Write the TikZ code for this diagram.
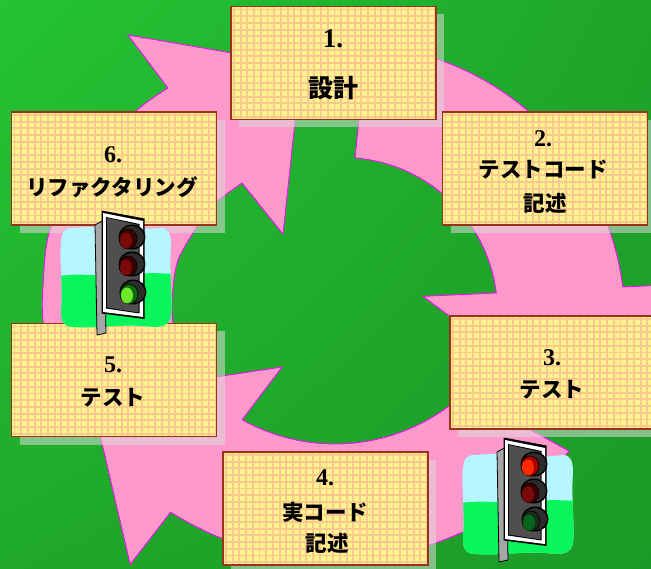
\documentclass[tikz,border=0pt]{standalone}
\usepackage{fontspec}
\setmainfont{Liberation Serif}
\newfontfamily\jp{Noto Sans CJK JP}
\usetikzlibrary{shadows,shadings}

\definecolor{bgUL}{HTML}{25C434}
\definecolor{bgUR}{HTML}{1FA52A}
\definecolor{bgLL}{HTML}{1FA82A}
\definecolor{bgLR}{HTML}{1C9A27}
\definecolor{arrowpink}{HTML}{FF99CC}
\definecolor{arrowedge}{HTML}{FF00FF}
\definecolor{boxyellow}{HTML}{FFF38E}
\definecolor{boxgrid}{HTML}{F9C990}
\definecolor{boxedge}{HTML}{9A3418}
\definecolor{shadowgrey}{HTML}{DADADA}
\definecolor{skycyan}{HTML}{B5F6FF}
\definecolor{grassgreen}{HTML}{08F65C}
\definecolor{polegrey}{HTML}{A6A6A6}
\definecolor{housegrey}{HTML}{4F4F4F}
\definecolor{hoodgrey}{HTML}{2C2C2C}
\definecolor{redoff}{HTML}{7A0A0A}
\definecolor{redoffdark}{HTML}{3A0000}
\definecolor{redon}{HTML}{FF2A00}
\definecolor{redondark}{HTML}{A50000}
\definecolor{greenon}{HTML}{6EE82A}
\definecolor{greenondark}{HTML}{0B6B0B}
\definecolor{greenoff}{HTML}{00661A}
\definecolor{greenoffdark}{HTML}{1A2A1A}

% one lamp of a signal: dark lens with a lit patch towards the lower left
\newcommand{\signallamp}[4]{%
  \fill[black] (#1+2,#2) ellipse [x radius=13.5, y radius=12.5];
  \fill[hoodgrey] (#1+2,#2) ellipse [x radius=12, y radius=11];
  \filldraw[fill=#4, draw=black, line width=0.6pt] (#1-2,#2+2) ellipse [x radius=9, y radius=10];
  \fill[#3] (#1-4,#2+3.5) ellipse [x radius=6, y radius=8];
}

% a traffic signal on its sky and grass backdrop; #1,#2 = top left of the housing
\newcommand{\drawsignal}[8]{%
  \begin{scope}[shift={(#1,#2)}]
    \begin{scope}
      \clip (-30,15) .. controls (0,12) and (40,18) .. (58,15)
        .. controls (66,15) and (68,22) .. (68,32)
        .. controls (66,60) and (70,90) .. (68,102)
        .. controls (67,112) and (60,114) .. (50,114)
        .. controls (20,110) and (0,116) .. (-30,114)
        .. controls (-40,114) and (-42,108) .. (-42,98)
        .. controls (-40,70) and (-44,45) .. (-42,28)
        .. controls (-41,18) and (-38,15) .. (-30,15) -- cycle;
      \fill[skycyan] (-50,0) rectangle (80,130);
      \fill[grassgreen] (-50,64) .. controls (-20,58) and (10,66) .. (30,62)
        .. controls (50,58) and (60,62) .. (80,60) -- (80,130) -- (-50,130) -- cycle;
    \end{scope}
    \filldraw[fill=polegrey, draw=black, line width=0.8pt]
      (-8,12) -- (1,7) -- (3,120) -- (-6,122) -- cycle;
    \fill[black] (-1.5,-2.5) -- (41.5,5.5) -- (41.5,106) -- (-1.5,100.5) -- cycle;
    \fill[white] (0,0) -- (40,8) -- (40,104) -- (0,99) -- cycle;
    \fill[black] (3,4) -- (36.5,11) -- (36.5,100.5) -- (3,95.5) -- cycle;
    \fill[housegrey] (4,5) -- (35.5,12) -- (35.5,99.5) -- (4,94.5) -- cycle;
    \signallamp{27}{24}{#3}{#4}
    \signallamp{27}{51}{#5}{#6}
    \signallamp{28}{79}{#7}{#8}
  \end{scope}}

\begin{document}
\begin{tikzpicture}[x=1pt, y=-1pt,
  pinkarrow/.style={fill=arrowpink, draw=arrowedge, line width=0.8pt, line join=miter},
  gridln/.style={draw=boxgrid, line width=1.9pt},
  stagebox/.style={rectangle, minimum width=205pt, minimum height=113pt, inner sep=0pt,
    fill=boxyellow, draw=boxedge, line width=1.2pt,
    drop shadow={shadow xshift=8pt, shadow yshift=-8pt, fill=shadowgrey, opacity=0.55},
    path picture={
      \foreach \k in {0,...,31}
        \draw[gridln] ([xshift=\k*6.7pt+3pt]path picture bounding box.north west)
          -- ([xshift=\k*6.7pt+3pt]path picture bounding box.south west);
      \foreach \k in {0,...,17}
        \draw[gridln] ([yshift=-\k*6.7pt-3pt]path picture bounding box.north west)
          -- ([yshift=-\k*6.7pt-3pt]path picture bounding box.north east);
    }},
  numlabel/.style={inner sep=0pt, font=\fontsize{24pt}{24pt}\selectfont\bfseries},
  jplabel/.style={inner sep=0pt, font=\jp\fontsize{21.5pt}{21.5pt}\selectfont\bfseries},
]
\useasboundingbox (0,0) rectangle (651,569);

% background
\shade[upper left=bgUL, upper right=bgUR, lower left=bgLL, lower right=bgLR]
  (0,0) rectangle (651,569);

% cycle arrows
\draw[pinkarrow]
  plot[smooth] coordinates {(69,425) (50,375) (43,320) (43,287) (50,230) (85,160) (137,110) (168,88)}
  -- (128,35) -- (301,65) -- (283,234)
  -- plot[smooth] coordinates {(242,183) (213,205) (193,233) (177,263) (172,303) (175,340) (185,372)}
  -- cycle;
\draw[pinkarrow]
  plot[domain=-86:-7.23, samples=50] ({347+278*cos(\x)},{322+278*sin(\x)})
  -- (696,283.6) -- (564.8,401.9) -- (423,296.4)
  -- plot[domain=-7.08:-85.5, samples=50] ({343+154.5*cos(\x)},{312+154.5*sin(\x)})
  -- cycle;
\draw[pinkarrow]
  plot[domain=40.1:122.5, samples=50] ({335+306*cos(\x)},{254+306*sin(\x)})
  -- (130.2,564.4) -- (91,396) -- (282,367)
  -- plot[domain=119.26:47.1, samples=50] ({335+190*cos(\x)},{254+190*sin(\x)})
  -- cycle;

% stage boxes
\node[stagebox] (b1) at (333.5,63) {};
\node[stagebox] (b2) at (545,168.5) {};
\node[stagebox] (b3) at (552.5,372.5) {};
\node[stagebox] (b4) at (325.5,508.5) {};
\node[stagebox] (b5) at (114,380) {};
\node[stagebox] (b6) at (114,168.5) {};

% labels
\node[numlabel, font=\fontsize{27pt}{27pt}\selectfont\bfseries] (n1) at (333,39) {1.};
\node[jplabel, font=\jp\fontsize{25pt}{25pt}\selectfont\bfseries] (t1) at (333,88) {設計};
\node[numlabel] (n2) at (543,139) {2.};
\node[jplabel] (t2a) at (543,170) {テストコード};
\node[jplabel] (t2b) at (545,203) {記述};
\node[numlabel] (n3) at (552,358) {3.};
\node[jplabel] (t3) at (552,390) {テスト};
\node[numlabel] (n4) at (325,478) {4.};
\node[jplabel] (t4a) at (325,512) {実コード};
\node[jplabel] (t4b) at (327,543) {記述};
\node[numlabel] (n5) at (113,365) {5.};
\node[jplabel] (t5) at (113,398) {テスト};
\node[numlabel] (n6) at (113,155) {6.};
\node[jplabel] (t6) at (112,187) {リファクタリング};

% traffic signals
\drawsignal{103}{213}{redoff}{redoffdark}{redoff}{redoffdark}{greenon}{greenondark}
\drawsignal{505}{440}{redon}{redondark}{redoff}{redoffdark}{greenoff}{greenoffdark}
\end{tikzpicture}
\end{document}
